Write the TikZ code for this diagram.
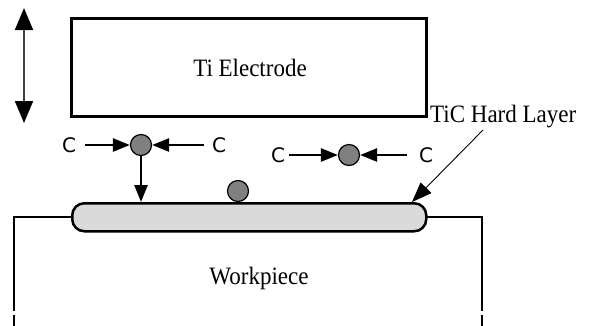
\documentclass[tikz,border=0pt]{standalone}
\usepackage{fontspec}
\setmainfont{Liberation Serif}
\newfontfamily\condserif[FakeStretch=0.92]{Liberation Serif}
\newfontfamily\csans{DejaVu Sans}
\usetikzlibrary{arrows.meta,calc}
\definecolor{ballgray}{RGB}{128,128,128}
\definecolor{layergray}{RGB}{218,218,218}
\definecolor{shaftgray}{RGB}{64,64,64}
\begin{document}
\begin{tikzpicture}[x=1pt,y=-1pt,
  box/.style={draw, line width=2.5pt, inner sep=0pt},
  lbl/.style={font=\condserif\fontsize{25}{25}\selectfont, inner sep=0pt},
  ctext/.style={font=\csans\fontsize{20}{20}\selectfont, inner sep=0pt},
  ball/.style={circle, draw, line width=1.2pt, fill=ballgray, minimum size=21pt, inner sep=0pt},
  carrow/.style={line width=2.5pt, -{Triangle[length=17pt,width=13pt]}},
  wall/.style={line width=2.5pt},
]
\useasboundingbox (0,0) rectangle (602,325);
% electrode
\node[box, minimum width=355pt, minimum height=98pt, anchor=north west] (elec) at (70,17) {};
\node[lbl, anchor=base] (elabel) at (250,76) {Ti Electrode};
% up-down arrow
\coordinate (up) at (24,8);
\coordinate (dn) at (24,123);
\draw[line width=1.8pt, draw=shaftgray,
  {Triangle[length=22pt,width=18pt,color=black]}-{Triangle[length=22pt,width=18pt,color=black]}] (up) -- (dn);
% workpiece
\draw[wall] (14,311) -- (14,217) -- (482,217) -- (482,311);
\draw[wall] (14,315) -- (14,326);
\draw[wall] (482,315) -- (482,326);
\node[lbl, anchor=base] (wp) at (259,284) {Workpiece};
% layer
\node[box, rounded corners=12pt, fill=layergray, minimum width=354pt, minimum height=28pt, anchor=north west] (layer) at (71,202) {};
% balls
\node[ball] (b1) at (141,145) {};
\node[ball] (b2) at (349,155) {};
\node[ball] (b3) at (238,191) {};
% carbon labels
\node[ctext] (c1l) at (69,145) {C};
\node[ctext] (c1r) at (219,145) {C};
\node[ctext] (c2l) at (278,155) {C};
\node[ctext] (c2r) at (426,155) {C};
\draw[carrow, shorten <=9pt] (c1l) -- (b1);
\draw[carrow, shorten <=8pt] (c1r) -- (b1);
\draw[carrow, shorten <=4pt] (c2l) -- (b2);
\draw[carrow, shorten <=12pt] (c2r) -- (b2);
\draw[carrow] (b1) -- (b1 |- layer.north);
% label with leader
\node[lbl, anchor=base west] (tic) at (430,122) {TiC Hard Layer};
\coordinate (lead) at (483,130);
\coordinate (tip) at (412,202);
\draw[line width=0.9pt, -{Triangle[length=20pt,width=15pt]}] (lead) -- (tip);
\end{tikzpicture}
\end{document}
